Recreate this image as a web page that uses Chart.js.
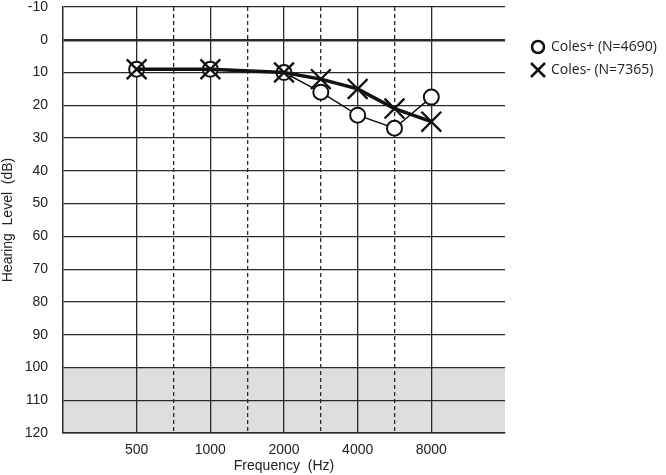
<!DOCTYPE html>
<html>
<head>
<meta charset="utf-8">
<script src="https://cdn.jsdelivr.net/npm/chart.js@4/dist/chart.umd.min.js"></script>
<style>
  html, body { margin: 0; padding: 0; background: #fff; }
  #wrap { width: 666px; height: 475px; }
</style>
</head>
<body>
<div id="wrap"><canvas id="grafico"></canvas></div>
<script>
const grafico = document.getElementById("grafico")

// frequencies, and their position on the octave axis (500 = 1, 8000 = 5)
let frequencias = [500, 1000, 2000, 3000, 4000, 6000, 8000]
let posicoes = [1, 2, 3, 3.5, 4, 4.5, 5]
let tickPos = [1, 1.5, 2, 2.5, 3, 3.5, 4, 4.5, 5]
let tickLabels = ["500", "", "1000", "", "2000", "", "4000", "", "8000"]

let colesMais = [9, 9, 10, 16, 23, 27, 17.5]
let colesMenos = [9, 9, 10, 12, 15, 21, 25]
let nomes = ["Coles+ (N=4690)", "Coles- (N=7365)"]

const texto = '#222'
const linha = '#2a2a2a'

const faixaCinza = {
    id: 'faixaCinza',
    beforeDraw(chart) {
        const { ctx, chartArea, scales } = chart
        const y1 = scales.y.getPixelForValue(100)
        const y2 = scales.y.getPixelForValue(120)
        ctx.save()
        ctx.fillStyle = '#dedede'
        ctx.fillRect(chartArea.left, y1, chartArea.right - chartArea.left, y2 - y1)
        ctx.restore()
    }
}

const legenda = {
    id: 'legenda',
    afterDraw(chart) {
        const ctx = chart.ctx
        ctx.save()
        ctx.strokeStyle = '#111'
        ctx.lineWidth = 2.5
        // circle
        ctx.beginPath()
        ctx.arc(538, 47, 6, 0, Math.PI * 2)
        ctx.stroke()
        // cross
        ctx.beginPath()
        ctx.moveTo(531, 63); ctx.lineTo(545, 77)
        ctx.moveTo(545, 63); ctx.lineTo(531, 77)
        ctx.stroke()
        ctx.fillStyle = texto
        ctx.font = '14px "Open Sans", sans-serif'
        ctx.textBaseline = 'middle'
        ctx.fillText(nomes[0], 551, 47)
        ctx.fillText(nomes[1], 551, 70)
        ctx.restore()
    }
}

new Chart(grafico, {
    type: 'line',
    data: {
        datasets: [{
            label: nomes[0],
            data: posicoes.map((p, i) => ({ x: p, y: colesMais[i] })),
            borderColor: '#111',
            borderWidth: 1.5,
            pointStyle: 'circle',
            pointRadius: 7.5,
            pointBorderWidth: 2,
            pointBackgroundColor: '#fff',
            pointBorderColor: '#111',
            order: 1
        }, {
            label: nomes[1],
            data: posicoes.map((p, i) => ({ x: p, y: colesMenos[i] })),
            borderColor: '#111',
            borderWidth: 3.5,
            pointStyle: 'crossRot',
            pointRadius: 14,
            pointBorderWidth: 2.3,
            pointBorderColor: '#111',
            order: 0
        }]
    },
    options: {
        responsive: true,
        maintainAspectRatio: false,
        animation: false,
        layout: { autoPadding: false, padding: { top: 7, right: 161, bottom: 0, left: 0 } },
        plugins: {
            legend: { display: false },
            tooltip: { enabled: false }
        },
        scales: {
            x: {
                type: 'linear',
                min: 0,
                max: 6,
                afterBuildTicks: (axis) => { axis.ticks = tickPos.map(v => ({ value: v })) },
                afterFit: (axis) => { axis.height = 42; axis.paddingLeft = 0; axis.paddingRight = 0 },
                ticks: {
                    autoSkip: false,
                    maxRotation: 0,
                    padding: 9,
                    color: texto,
                    font: { family: 'Liberation Sans', size: 14 },
                    callback: (v) => { const i = tickPos.indexOf(v); return i >= 0 ? tickLabels[i] : '' }
                },
                grid: { color: linha, lineWidth: 1.3, drawTicks: false },
                border: {
                    color: linha, width: 1.5,
                    dash: (ctx) => (ctx.tick && ctx.tick.value % 1 !== 0) ? [4, 3] : []
                },
                title: {
                    display: true, text: 'Frequency  (Hz)', color: texto,
                    font: { family: 'Liberation Sans', size: 14 },
                    padding: { top: 0, bottom: 0 }
                }
            },
            y: {
                reverse: true,
                min: -10,
                max: 120,
                afterFit: (axis) => { axis.width = 63; axis.paddingTop = 0; axis.paddingBottom = 0 },
                ticks: {
                    stepSize: 10,
                    padding: 15,
                    color: texto,
                    font: { family: 'Liberation Sans', size: 14 }
                },
                grid: {
                    color: linha,
                    lineWidth: (ctx) => (ctx.tick && ctx.tick.value === 0) ? 2.5 : 1.3,
                    drawTicks: false
                },
                border: { color: linha, width: 1.5 },
                title: {
                    display: true, text: 'Hearing  Level  (dB)', color: texto,
                    font: { family: 'Liberation Sans', size: 14 },
                    padding: { top: 0, bottom: 0 }
                }
            }
        }
    },
    plugins: [faixaCinza, legenda]
});
</script>
</body>
</html>
